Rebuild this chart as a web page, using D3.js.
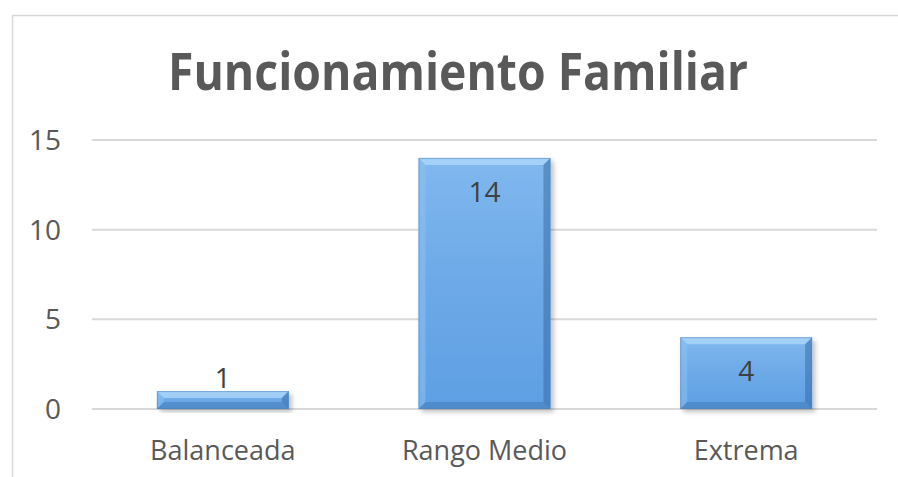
<!DOCTYPE html>
<html>
<head>
<meta charset="utf-8">
<script src="https://cdn.jsdelivr.net/npm/d3@7"></script>
<style>
  body { margin: 0; background: #fff; }
  svg { display: block; font-family: "Open Sans", "Noto Sans", sans-serif; }
</style>
</head>
<body>
<svg id="chart" width="898" height="477"></svg>
<script>
// data
const categories = ["Balanceada", "Rango Medio", "Extrema"];
const values = [1, 14, 4];
const yTicks = [0, 5, 10, 15];
const title = "Funcionamiento Familiar";

const W = 898, H = 477;
const svg = d3.select("#chart");

// frame of the chart area (runs off the right / bottom edge)
svg.append("rect")
    .attr("x", 12.5).attr("y", 15.5)
    .attr("width", 892).attr("height", 480)
    .attr("fill", "#fff")
    .attr("stroke", "#d9d9d9")
    .attr("stroke-width", 1.5);

let margin = {left: 92, right: 21, top: 140, bottom: 68};

let x = d3.scaleBand()
    .domain(categories)
    .range([margin.left, W - margin.right])
    .paddingInner(0.496)
    .paddingOuter(0.248);

let y = d3.scaleLinear()
    .domain([0, 15])
    .range([H - margin.bottom, margin.top]);

// defs: gradient + shadow
let defs = svg.append("defs");
let grad = defs.append("linearGradient").attr("id", "barFill")
    .attr("x1", 0).attr("y1", 0).attr("x2", 0).attr("y2", 1);
grad.append("stop").attr("offset", "0%").attr("stop-color", "#80b8ee");
grad.append("stop").attr("offset", "50%").attr("stop-color", "#6da9e8");
grad.append("stop").attr("offset", "100%").attr("stop-color", "#5e9fe3");

let shadow = defs.append("filter").attr("id", "shadow")
    .attr("x", "-10%").attr("y", "-10%").attr("width", "130%").attr("height", "130%");
shadow.append("feGaussianBlur").attr("in", "SourceAlpha").attr("stdDeviation", 2.5);
shadow.append("feOffset").attr("dx", 3).attr("dy", 3).attr("result", "blur");
shadow.append("feComponentTransfer").append("feFuncA").attr("type", "linear").attr("slope", 0.25);
let merge = shadow.append("feMerge");
merge.append("feMergeNode");
merge.append("feMergeNode").attr("in", "SourceGraphic");

// gridlines
svg.append("g")
  .selectAll("line")
  .data(yTicks)
  .join("line")
    .attr("x1", margin.left).attr("x2", W - margin.right)
    .attr("y1", d => y(d)).attr("y2", d => y(d))
    .attr("stroke", "#d9d9d9")
    .attr("stroke-width", 2);

// y tick labels
svg.append("g")
  .selectAll("text")
  .data(yTicks)
  .join("text")
    .attr("x", 61)
    .attr("y", d => y(d))
    .attr("dy", "0.36em")
    .attr("text-anchor", "end")
    .attr("fill", "#595959")
    .style("font-size", "28px")
    .text(d => d);

// category labels
svg.append("g")
  .selectAll("text")
  .data(categories)
  .join("text")
    .attr("x", d => x(d) + x.bandwidth() / 2)
    .attr("y", 460)
    .attr("text-anchor", "middle")
    .attr("fill", "#595959")
    .style("font-size", "27px")
    .text(d => d);

// bars with a bevel
let bw = x.bandwidth();
let bars = svg.append("g")
  .selectAll("g")
  .data(categories.map((c, i) => ({c: c, v: values[i]})))
  .join("g")
    .attr("filter", "url(#shadow)");

bars.each(function(d) {
    let g = d3.select(this);
    let x0 = x(d.c), x1 = x0 + bw;
    let y0 = y(d.v), y1 = y(0);
    let b = Math.min(7, (y1 - y0) / 2.5);
    g.append("rect")
        .attr("x", x0).attr("y", y0)
        .attr("width", bw).attr("height", y1 - y0)
        .attr("fill", "url(#barFill)");
    let poly = (pts, col, op) => g.append("polygon")
        .attr("points", pts.map(p => p.join(",")).join(" "))
        .attr("fill", col).attr("opacity", op);
    // top
    poly([[x0, y0], [x1, y0], [x1 - b, y0 + b], [x0 + b, y0 + b]], "#b4dbfb", 0.7);
    // left
    poly([[x0, y0], [x0 + b, y0 + b], [x0 + b, y1 - b], [x0, y1]], "#8cc4f3", 0.5);
    // right
    poly([[x1, y0], [x1, y1], [x1 - b, y1 - b], [x1 - b, y0 + b]], "#2f5f96", 0.45);
    // bottom
    poly([[x0, y1], [x0 + b, y1 - b], [x1 - b, y1 - b], [x1, y1]], "#3a6ea8", 0.4);
    g.append("rect")
        .attr("x", x0 + 0.5).attr("y", y0 + 0.5)
        .attr("width", bw - 1).attr("height", y1 - y0 - 1)
        .attr("fill", "none")
        .attr("stroke", "#4f7fb5").attr("stroke-width", 1).attr("opacity", 0.5);
});

// data labels: inside end when the bar is tall enough, else on top
svg.append("g")
  .selectAll("text")
  .data(categories.map((c, i) => ({c: c, v: values[i]})))
  .join("text")
    .attr("x", d => x(d.c) + bw / 2)
    .attr("y", d => (y(0) - y(d.v)) > 40 ? y(d.v) + 44 : y(d.v) - 3)
    .attr("text-anchor", "middle")
    .attr("fill", "#404040")
    .style("font-size", "28px")
    .text(d => d.v);

// title
svg.append("text")
    .attr("x", 458)
    .attr("y", 90)
    .attr("text-anchor", "middle")
    .attr("fill", "#595959")
    .style("font-size", "52px")
    .style("font-weight", "bold")
    .attr("textLength", 580)
    .attr("lengthAdjust", "spacingAndGlyphs")
    .text(title);
</script>
</body>
</html>
